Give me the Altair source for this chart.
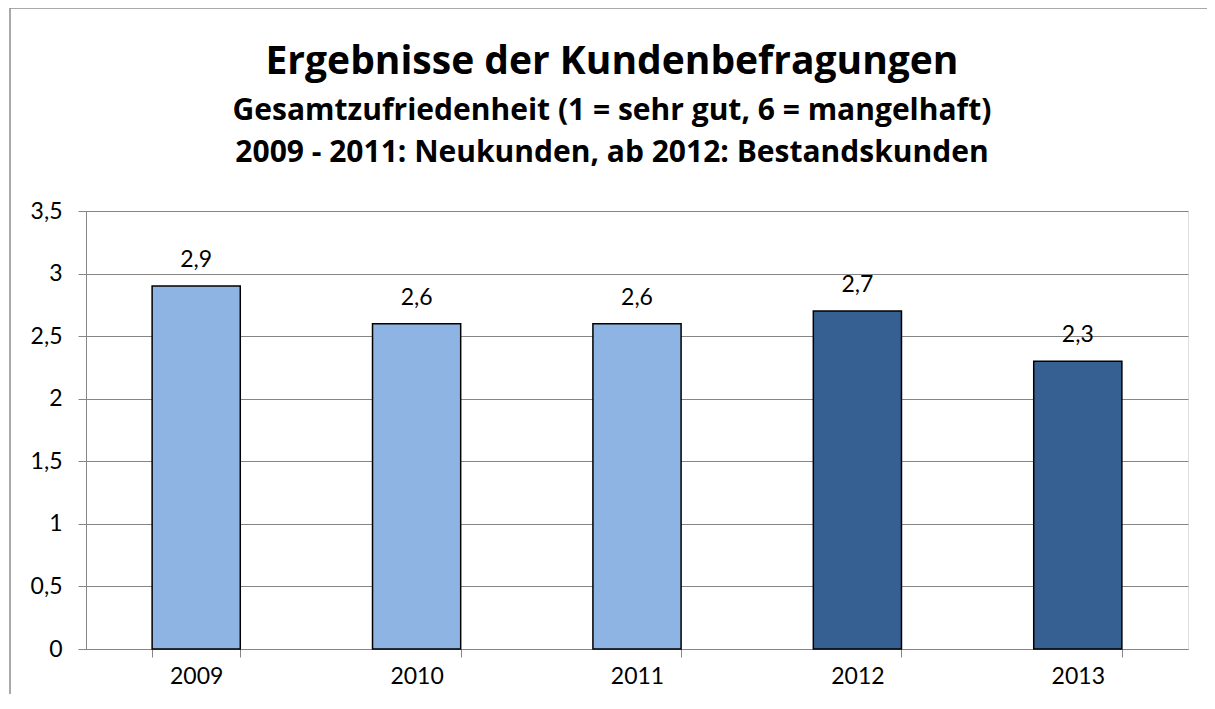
import altair as alt
import pandas as pd

years = ["2009", "2010", "2011", "2012", "2013"]
values = [2.9, 2.6, 2.6, 2.7, 2.3]
groups = ["Neukunden", "Neukunden", "Neukunden", "Bestandskunden", "Bestandskunden"]
group_names = ["Neukunden", "Bestandskunden"]
group_colors = ["#8DB4E3", "#376092"]
y_ticks = [0, 0.5, 1, 1.5, 2, 2.5, 3, 3.5]

title_line = "Ergebnisse der Kundenbefragungen"
subtitle_1 = "Gesamtzufriedenheit (1 = sehr gut, 6 = mangelhaft)"
subtitle_2 = "2009 - 2011: Neukunden, ab 2012: Bestandskunden"

FONT = "Lato"
TFONT = "Open Sans"
W, H = 1102, 438

df = pd.DataFrame({"year": years, "value": values, "group": groups})

base = alt.Chart(df).transform_calculate(
    label="replace(format(datum.value, '.1f'), '.', ',')"
)

x_enc = alt.X(
    "year:N",
    sort=years,
    scale=alt.Scale(paddingInner=0.6, paddingOuter=0.3),
    axis=alt.Axis(
        title=None, labelAngle=0, tickBand="extent", grid=False,
        domainColor="#868686", tickColor="#868686", tickSize=8,
        labelFont=FONT, labelFontSize=23, labelColor="black", labelPadding=8,
    ),
)
y_enc = alt.Y(
    "value:Q",
    scale=alt.Scale(domain=[0, 3.5], nice=False, zero=True),
    axis=alt.Axis(
        title=None, values=y_ticks, grid=True, gridColor="#868686",
        domainColor="#868686", tickColor="#868686", tickSize=8,
        labelFont=FONT, labelFontSize=23, labelColor="black", labelPadding=16,
        labelExpr="replace(format(datum.value, '~g'), '.', ',')",
    ),
)

bars = base.mark_bar(stroke="black", strokeWidth=1.5).encode(
    x=x_enc,
    y=y_enc,
    color=alt.Color("group:N", scale=alt.Scale(domain=group_names, range=group_colors), legend=None),
)

labels = base.mark_text(dy=-19, baseline="alphabetic", font=FONT, fontSize=23, color="black").encode(
    x=alt.X("year:N", sort=years),
    y="value:Q",
    text="label:N",
)

one = pd.DataFrame({"k": [0]})
border_left = alt.Chart(one).mark_rule(stroke="#8C8C8C", strokeWidth=1.5).encode(
    x=alt.value(-76), y=alt.value(-203), y2=alt.value(H + 100)
)
border_top = alt.Chart(one).mark_rule(stroke="#8C8C8C", strokeWidth=1.5).encode(
    x=alt.value(-76), x2=alt.value(W + 100), y=alt.value(-203)
)

def title_text(txt, size, ypos):
    return alt.Chart(pd.DataFrame({"t": [txt]})).mark_text(
        font=TFONT, fontSize=size, fontWeight="bold", color="black",
        align="center", baseline="alphabetic",
    ).encode(text="t:N", x=alt.value(526), y=alt.value(ypos))

t1 = title_text(title_line, 39, 74 - 211)
t2 = title_text(subtitle_1, 30, 120 - 211)
t3 = title_text(subtitle_2, 30, 162 - 211)

chart = alt.layer(border_left, border_top, bars, labels, t1, t2, t3).properties(
    width=W, height=H,
    autosize=alt.AutoSizeParams(type="none"),
    padding={"left": 78, "top": 203, "right": 19, "bottom": 45},
).configure_view(stroke=None).configure(background="white")

chart.save("out.html", embed_options={"renderer": "svg", "actions": False})
